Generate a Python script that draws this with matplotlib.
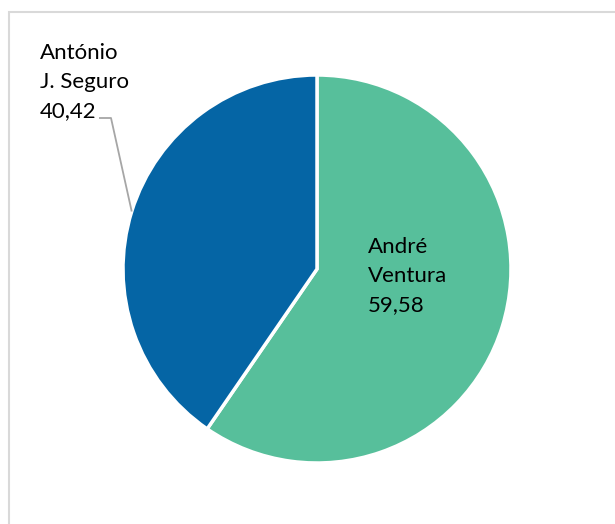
import numpy as np
import matplotlib
matplotlib.use("Agg")
import matplotlib.pyplot as plt
from matplotlib.patches import Rectangle

candidates = ["André\nVentura", "António\nJ. Seguro"]
values = [59.58, 40.42]
colors = ["#57BF9B", "#0565A5"]

W, H = 615, 524
fig = plt.figure(figsize=(W / 100, H / 100), dpi=100)
ax = fig.add_axes([0, 0, 1, 1])

cx, cy, r = 317, H - 269, 194
wedges, _ = ax.pie(values, colors=colors, startangle=90, counterclock=False,
                   center=(cx, cy), radius=r, frame=True,
                   wedgeprops=dict(edgecolor="white", linewidth=2.5))
ax.set_xlim(0, W)
ax.set_ylim(0, H)
ax.set_aspect("equal")
ax.axis("off")

font = "Lato"
fs = 16
ls = 1.55
def fmt(v):
    return f"{v:.2f}".replace(".", ",")

# Green label inside
ax.text(368, H - 311, f"{candidates[0]}\n{fmt(values[0])}", ha="left", va="baseline",
        fontsize=fs, family=font, linespacing=ls, color="black")

# Blue label outside with leader line
ax.text(40, H - 117, f"{candidates[1]}\n{fmt(values[1])}", ha="left", va="baseline",
        fontsize=fs, family=font, linespacing=ls, color="black")
w = wedges[1]
mid = np.deg2rad((w.theta1 + w.theta2) / 2)
ex, ey = cx + r * np.cos(mid), cy + r * np.sin(mid)
ax.plot([99, 111, ex], [H - 118, H - 118, ey], color="#A6A6A6", lw=1.3,
        solid_capstyle="butt")

fig.patches.append(Rectangle((9, -10), W + 20, H - 12 + 10, transform=None,
                             fill=False, edgecolor="#D9D9D9", lw=1.5))

fig.savefig("out.png", dpi=100)
